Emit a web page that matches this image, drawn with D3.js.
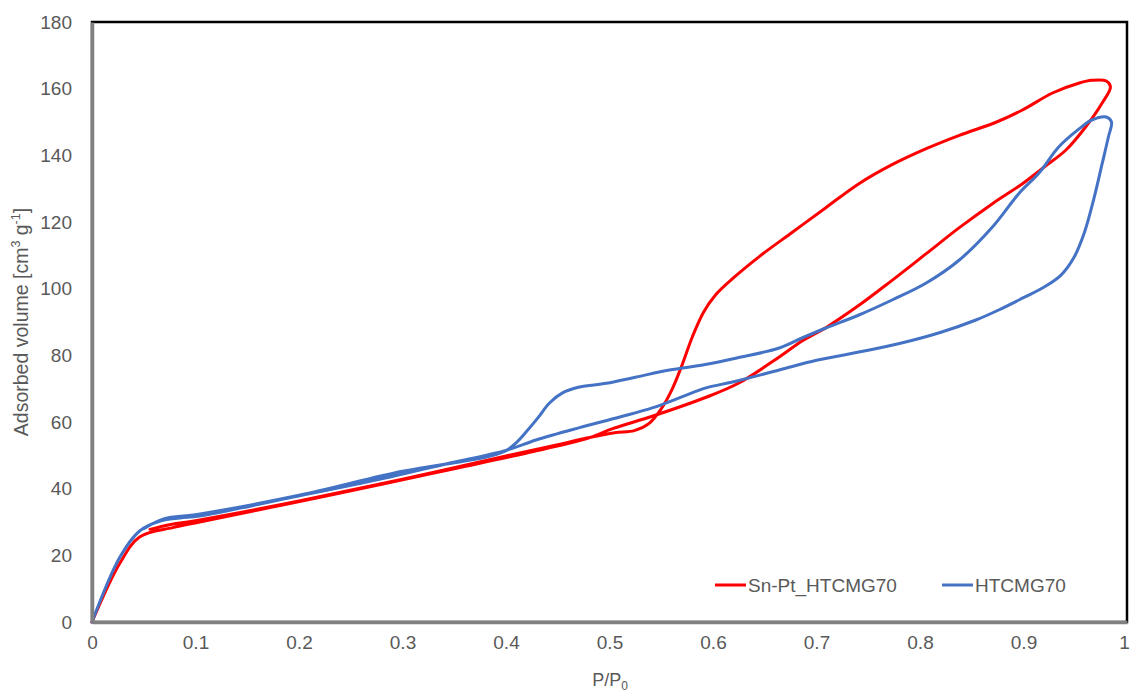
<!DOCTYPE html>
<html>
<head>
<meta charset="utf-8">
<script src="https://cdn.jsdelivr.net/npm/d3@7"></script>
<style>
  html, body { margin: 0; padding: 0; background: #fff; }
  svg { display: block; font-family: "Liberation Sans", Arial, sans-serif; }
</style>
</head>
<body>
<svg id="chart" width="1131" height="694"></svg>
<script>
// ---- data ----
const seriesNames = ["Sn-Pt_HTCMG70", "HTCMG70"];
const seriesColors = ["#FF0000", "#4472C4"];
const xTicks = [0, 0.1, 0.2, 0.3, 0.4, 0.5, 0.6, 0.7, 0.8, 0.9, 1];
const yTicks = [0, 20, 40, 60, 80, 100, 120, 140, 160, 180];

// Sn-Pt_HTCMG70: adsorption then desorption (P/P0, volume)
const snPtP = [0, 0.027, 0.046, 0.078, 0.104, 0.19, 0.28, 0.35, 0.42, 0.478, 0.503, 0.542, 0.594, 0.625, 0.664, 0.686, 0.709, 0.741, 0.773, 0.806, 0.838, 0.870, 0.899, 0.920, 0.941, 0.960, 0.976, 0.984,
  0.980, 0.966, 0.954, 0.928, 0.899, 0.874, 0.838, 0.806, 0.773, 0.741, 0.709, 0.677, 0.645, 0.62, 0.603, 0.591, 0.58, 0.57, 0.56, 0.549, 0.538, 0.524, 0.505, 0.478, 0.45, 0.40, 0.30, 0.20, 0.10, 0.075, 0.056];
const snPtV = [0, 17.7, 25.5, 28.3, 30, 35.5, 41.3, 46, 50.7, 55, 58, 61.8, 67.5, 71.7, 79.5, 84.3, 88.3, 95, 102.5, 110.5, 118.3, 125.5, 131.5, 136.5, 141.6, 148.5, 155.7, 160.5,
  162.3, 162.5, 161.7, 158.7, 153.6, 150, 146, 142, 137.2, 131.5, 124.3, 117, 109.7, 103.3, 98.3, 93, 85.5, 77, 69.5, 63.5, 59.5, 57.4, 56.8, 55.2, 53.2, 49.8, 42.8, 36.3, 30.4, 29.2, 27.8];

// HTCMG70: adsorption then desorption
const htcP = [0, 0.027, 0.046, 0.066, 0.085, 0.104, 0.19, 0.288, 0.343, 0.40, 0.429, 0.471, 0.51, 0.542, 0.568, 0.594, 0.619, 0.664, 0.70, 0.75, 0.79, 0.821, 0.854, 0.876, 0.90, 0.92, 0.936, 0.949, 0.959, 0.968, 0.976, 0.982, 0.985,
  0.980, 0.966, 0.954, 0.934, 0.915, 0.896, 0.870, 0.838, 0.806, 0.773, 0.741, 0.709, 0.686, 0.664, 0.623, 0.590, 0.558, 0.526, 0.497, 0.471, 0.455, 0.442, 0.431, 0.42, 0.41, 0.40, 0.385, 0.36, 0.30, 0.20, 0.10, 0.07, 0.05];
const htcV = [0, 19.5, 27.3, 30.3, 31.2, 31.8, 37.2, 43.5, 47.5, 51.5, 54.6, 58.3, 61.5, 64.3, 67.3, 70.3, 72, 75.6, 78.5, 81.5, 84.3, 87, 90.6, 93.6, 97.3, 100.5, 104, 109.5, 117, 127, 137.5, 145.5, 150,
  151.5, 150.6, 148, 142.5, 134.7, 128.7, 118.5, 108.6, 101.7, 96.6, 92.1, 88.2, 85.2, 82.2, 79.2, 77.1, 75.6, 73.5, 71.6, 70.5, 68.8, 65.7, 61.3, 57.2, 53.8, 51.4, 49.8, 48.3, 45.2, 38, 32.2, 31, 28];

// ---- layout ----
const svg = d3.select("#chart");
const mLeft = 92, mRight = 1127, mTop = 22, mBottom = 622;
const x = d3.scaleLinear().domain([0, 1]).range([mLeft, mRight]);
const y = d3.scaleLinear().domain([0, 180]).range([mBottom, mTop]);
const textColor = "#595959";

// plot frame (top/right black)
svg.append("rect")
  .attr("x", mLeft).attr("y", mTop)
  .attr("width", mRight - mLeft).attr("height", mBottom - mTop)
  .attr("fill", "none").attr("stroke", "#000").attr("stroke-width", 2.5);

// series
const line = d3.line()
  .x(d => x(d[0])).y(d => y(d[1]))
  .curve(d3.curveCatmullRom.alpha(0.5));

const series = [
  d3.zip(snPtP, snPtV),
  d3.zip(htcP, htcV)
];
svg.append("g").selectAll("path")
  .data(series)
  .join("path")
  .attr("d", d => line(d))
  .attr("fill", "none")
  .attr("stroke", (d, i) => seriesColors[i])
  .attr("stroke-width", 3)
  .attr("stroke-linejoin", "round")
  .attr("stroke-linecap", "round");

// axes (gray left & bottom)
const xAxis = d3.axisBottom(x).tickValues(xTicks).tickSize(0).tickPadding(14)
  .tickFormat(d => d3.format("~g")(d));
const yAxis = d3.axisLeft(y).tickValues(yTicks).tickSize(0).tickPadding(20);

const gx = svg.append("g").attr("transform", `translate(0,${mBottom})`).call(xAxis);
const gy = svg.append("g").attr("transform", `translate(${mLeft},0)`).call(yAxis);
[gx, gy].forEach(g => {
  g.select(".domain").attr("stroke", "#808080").attr("stroke-width", 3.5);
  g.selectAll("text").attr("fill", textColor).attr("font-size", 19)
    .attr("font-family", "'Liberation Sans', Arial, sans-serif");
});
// keep the last x label inside the page
gx.selectAll(".tick text").filter(d => d === 1).attr("dx", -3);

// axis titles
const xt = svg.append("text")
  .attr("x", 610).attr("y", 686)
  .attr("text-anchor", "middle")
  .attr("fill", textColor).attr("font-size", 18);
xt.append("tspan").text("P/P");
xt.append("tspan").attr("font-size", 12).attr("dy", 4).text("0");

const yt = svg.append("text")
  .attr("transform", `translate(28,${(mTop + mBottom) / 2}) rotate(-90)`)
  .attr("text-anchor", "middle")
  .attr("fill", textColor).attr("font-size", 19.5);
yt.append("tspan").text("Adsorbed volume [cm");
yt.append("tspan").attr("font-size", 12.5).attr("dy", -8).text("3");
yt.append("tspan").attr("dy", 8).text(" g");
yt.append("tspan").attr("font-size", 12.5).attr("dy", -8).text("-1");
yt.append("tspan").attr("dy", 8).text("]");

// legend
const legendX = [715, 942];
const legendY = 585;
const lg = svg.append("g").selectAll("g")
  .data(seriesNames)
  .join("g")
  .attr("transform", (d, i) => `translate(${legendX[i]},${legendY})`);
lg.append("line")
  .attr("x1", 0).attr("x2", 31).attr("y1", 0).attr("y2", 0)
  .attr("stroke", (d, i) => seriesColors[i]).attr("stroke-width", 3);
lg.append("text")
  .attr("x", 33).attr("y", 7)
  .attr("fill", textColor).attr("font-size", 19)
  .text(d => d);
</script>
</body>
</html>
